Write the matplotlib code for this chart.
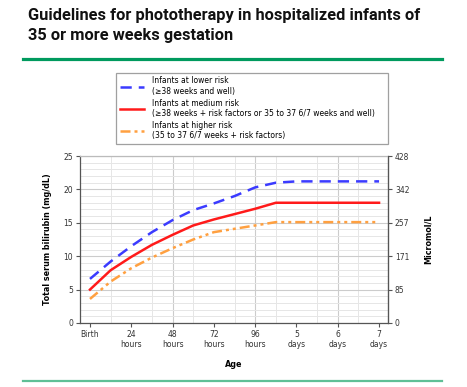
import matplotlib.pyplot as plt
from matplotlib.lines import Line2D

# --- data ---
hours = [0, 12, 24, 36, 48, 60, 72, 84, 96, 108, 120, 144, 168]
lower_risk = [6.6, 9.2, 11.5, 13.6, 15.4, 16.9, 17.9, 19.0, 20.3, 21.0, 21.2, 21.2, 21.2]
medium_risk = [5.0, 7.9, 9.9, 11.7, 13.2, 14.6, 15.5, 16.3, 17.1, 18.0, 18.0, 18.0, 18.0]
higher_risk = [3.6, 6.2, 8.2, 9.8, 11.2, 12.5, 13.6, 14.1, 14.6, 15.1, 15.1, 15.1, 15.1]

xtick_pos = [0, 24, 48, 72, 96, 120, 144, 168]
xtick_labels = ['Birth', '24\nhours', '48\nhours', '72\nhours', '96\nhours', '5\ndays', '6\ndays', '7\ndays']
ytick_pos = [0, 5, 10, 15, 20, 25]
micromol_labels = ['0', '85', '171', '257', '342', '428']

legend_labels = [
    'Infants at lower risk\n(\u226538 weeks and well)',
    'Infants at medium risk\n(\u226538 weeks + risk factors or 35 to 37 6/7 weeks and well)',
    'Infants at higher risk\n(35 to 37 6/7 weeks + risk factors)',
]

blue = '#3b3bff'
red = '#ff1a1a'
orange = '#ffa040'
tick_color = '#333333'
fs = 5.5

fig = plt.figure(figsize=(4.67, 3.87), dpi=100)

# title + green rules
fig.text(28 / 467, 1 - 8 / 387, 'Guidelines for phototherapy in hospitalized infants of\n35 or more weeks gestation',
         ha='left', va='top', fontsize=11.8, fontweight='bold', family='Roboto',
         linespacing=1.4, color='#111111')
fig.add_artist(Line2D([23 / 467, 442 / 467], [1 - 59 / 387] * 2, color='#009a5e', lw=2.3))
fig.add_artist(Line2D([23 / 467, 442 / 467], [1 - 381 / 387] * 2, color='#5fbf96', lw=1.6))

ax = fig.add_axes([80 / 467, 1 - 323 / 387, 308 / 467, 167 / 387])
ax.set_xlim(-5.8, 173.2)
ax.set_ylim(0, 25)

ax.set_xticks(range(0, 169, 12), minor=True)
ax.set_yticks(range(0, 26), minor=True)
ax.grid(which='minor', color='#e6e6e6', lw=0.7)
ax.grid(which='major', axis='y', color='#cccccc', lw=0.8)
for xv in [48, 96, 144]:
    ax.axvline(xv, color='#cccccc', lw=0.8, zorder=0.5)
ax.set_axisbelow(True)

ax.plot(hours, lower_risk, color=blue, lw=1.8, dashes=(4.5, 2.8), label=legend_labels[0])
ax.plot(hours, medium_risk, color=red, lw=1.8, label=legend_labels[1])
ax.plot(hours, higher_risk, color=orange, lw=1.8, dashes=(4, 1.6, 1.2, 1.6, 1.2, 1.6), label=legend_labels[2])

ax.set_xticks(xtick_pos)
ax.set_xticklabels(xtick_labels, fontsize=fs, color=tick_color, linespacing=1.1)
ax.set_yticks(ytick_pos)
ax.set_yticklabels([str(v) for v in ytick_pos], fontsize=fs, color=tick_color)
ax.tick_params(which='major', direction='out', length=3, width=0.8, color='#555555', pad=2)
ax.tick_params(which='minor', length=0)
for sp in ax.spines.values():
    sp.set_color('#555555')
    sp.set_linewidth(0.9)
ax.spines['top'].set_color('#bbbbbb')

ax.set_ylabel('Total serum bilirubin (mg/dL)', fontsize=5.8, fontweight='bold', labelpad=8)
ax.set_xlabel('Age', fontsize=5.8, fontweight='bold', labelpad=8)

ax2 = ax.twinx()
ax2.set_ylim(0, 25)
ax2.set_yticks(ytick_pos)
ax2.set_yticklabels(micromol_labels, fontsize=fs, color=tick_color)
ax2.tick_params(direction='out', length=3, width=0.8, color='#555555', pad=2)
for sp in ax2.spines.values():
    sp.set_visible(False)
ax2.spines['right'].set_visible(True)
ax2.spines['right'].set_color('#555555')
ax2.set_ylabel('Micromol/L', fontsize=5.8, fontweight='bold', labelpad=10)

leg = fig.legend(loc='upper left', bbox_to_anchor=(116 / 467, 1 - 73 / 387, 272 / 467, 0.001),
                 mode='expand', fontsize=fs, frameon=True, fancybox=False,
                 handlelength=3.2, handletextpad=1.0, labelspacing=0.35,
                 borderpad=0.5, borderaxespad=0)
leg.get_frame().set_edgecolor('#888888')
leg.get_frame().set_linewidth(0.9)

fig.savefig('out.png', dpi=100)
